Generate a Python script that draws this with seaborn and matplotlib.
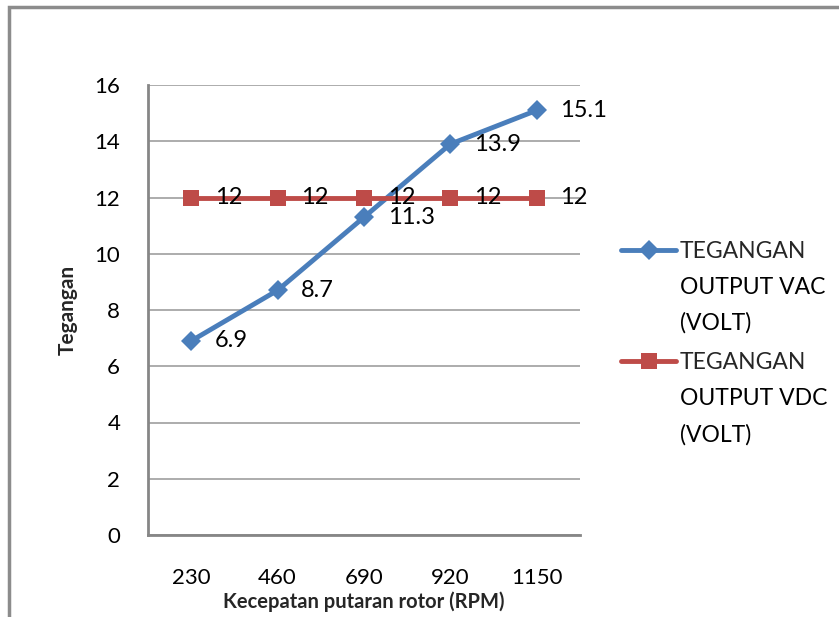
import textwrap
import numpy as np
import pandas as pd
import matplotlib
matplotlib.use("Agg")
import matplotlib.pyplot as plt
from matplotlib.patches import Rectangle
from matplotlib.lines import Line2D
import seaborn as sns

# Data
rpm = ["230", "460", "690", "920", "1150"]
vac = [6.9, 8.7, 11.3, 13.9, 15.1]
vdc = [12, 12, 12, 12, 12]
series_vac = "TEGANGAN OUTPUT VAC (VOLT)"
series_vdc = "TEGANGAN OUTPUT VDC (VOLT)"
y_ticks = [0, 2, 4, 6, 8, 10, 12, 14, 16]

pos = np.arange(len(rpm))
df = pd.DataFrame({
    "pos": np.concatenate([pos, pos]),
    "value": vac + vdc,
    "series": [series_vac] * len(vac) + [series_vdc] * len(vdc),
})

sns.set_theme(style="white")
plt.rcParams["font.family"] = ["Lato", "DejaVu Sans"]

W, H = 839, 617
fig = plt.figure(figsize=(W / 100, H / 100), dpi=100)
ax = fig.add_axes([148 / W, 1 - 535 / H, (580 - 148) / W, (535 - 85) / H])

blue = "#4A7EBB"
red = "#BE4B48"
palette = {series_vac: blue, series_vdc: red}
markers = {series_vac: "D", series_vdc: "s"}

sns.lineplot(data=df, x="pos", y="value", hue="series", style="series",
             palette=palette, markers=markers, dashes=False, linewidth=3.5,
             markersize=11, markeredgewidth=0, ax=ax, legend=False, zorder=3)
for line in ax.lines:
    line.set_markersize(12 if line.get_marker() == "s" else 10)

# data labels to the right of each point
for ys in (vac, vdc):
    for x, y in zip(pos, ys):
        ax.annotate(f"{y:g}", (x, y), xytext=(17, 0), textcoords="offset points",
                    ha="left", va="center", fontsize=17, color="black", zorder=4)

ax.set_xlim(-0.5, len(rpm) - 0.5)
ax.set_ylim(0, 16)
ax.set_xticks(pos)
ax.set_xticklabels(rpm)
ax.set_yticks(y_ticks)
ax.tick_params(axis="both", length=0, labelsize=16, colors="black")
ax.tick_params(axis="x", pad=24)
ax.tick_params(axis="y", pad=20)
ax.grid(axis="y", color="#A6A6A6", linewidth=1.3)
ax.set_axisbelow(True)
for side in ("top", "right"):
    ax.spines[side].set_visible(False)
for side in ("left", "bottom"):
    ax.spines[side].set_color("#868686")
    ax.spines[side].set_linewidth(2)

ax.set_xlabel("Kecepatan putaran rotor (RPM)", fontsize=14.5, fontweight="bold", labelpad=2)
ax.set_ylabel("Tegangan", fontsize=15, fontweight="bold", labelpad=12)

# legend to the right of the plot: handle beside the first line of each label
handles = [
    Line2D([], [], color=blue, marker="D", markersize=10, linewidth=3.5, markeredgewidth=0),
    Line2D([], [], color=red, marker="s", markersize=12, linewidth=3.5, markeredgewidth=0),
]
wrapped = [textwrap.fill(series_vac, 11).split("\n"), textwrap.fill(series_vdc, 11).split("\n")]
leg_fs = 16.5
leg = fig.legend(handles, [w[0] for w in wrapped], loc="center left",
                 bbox_to_anchor=(612 / W, 1 - 307 / H),
                 frameon=False, fontsize=leg_fs, handlelength=2.4, handletextpad=0.15,
                 labelspacing=3.95, borderaxespad=0)

fig.canvas.draw()
renderer = fig.canvas.get_renderer()
line_px = 36
for t, lines in zip(leg.get_texts(), wrapped):
    bb = t.get_window_extent(renderer)
    x0 = bb.x0 / W
    for k, rest in enumerate(lines[1:], start=1):
        fig.text(x0, (bb.y0 - k * line_px) / H, rest, fontsize=leg_fs,
                 ha="left", va="bottom", color="black")

# chart area border
fig.add_artist(Rectangle((9 / W, -0.1), 2, 1.1 - 7 / H, transform=fig.transFigure,
                         fill=False, edgecolor="#8C8C8C", linewidth=2.5))

fig.savefig("out.png", dpi=100)
